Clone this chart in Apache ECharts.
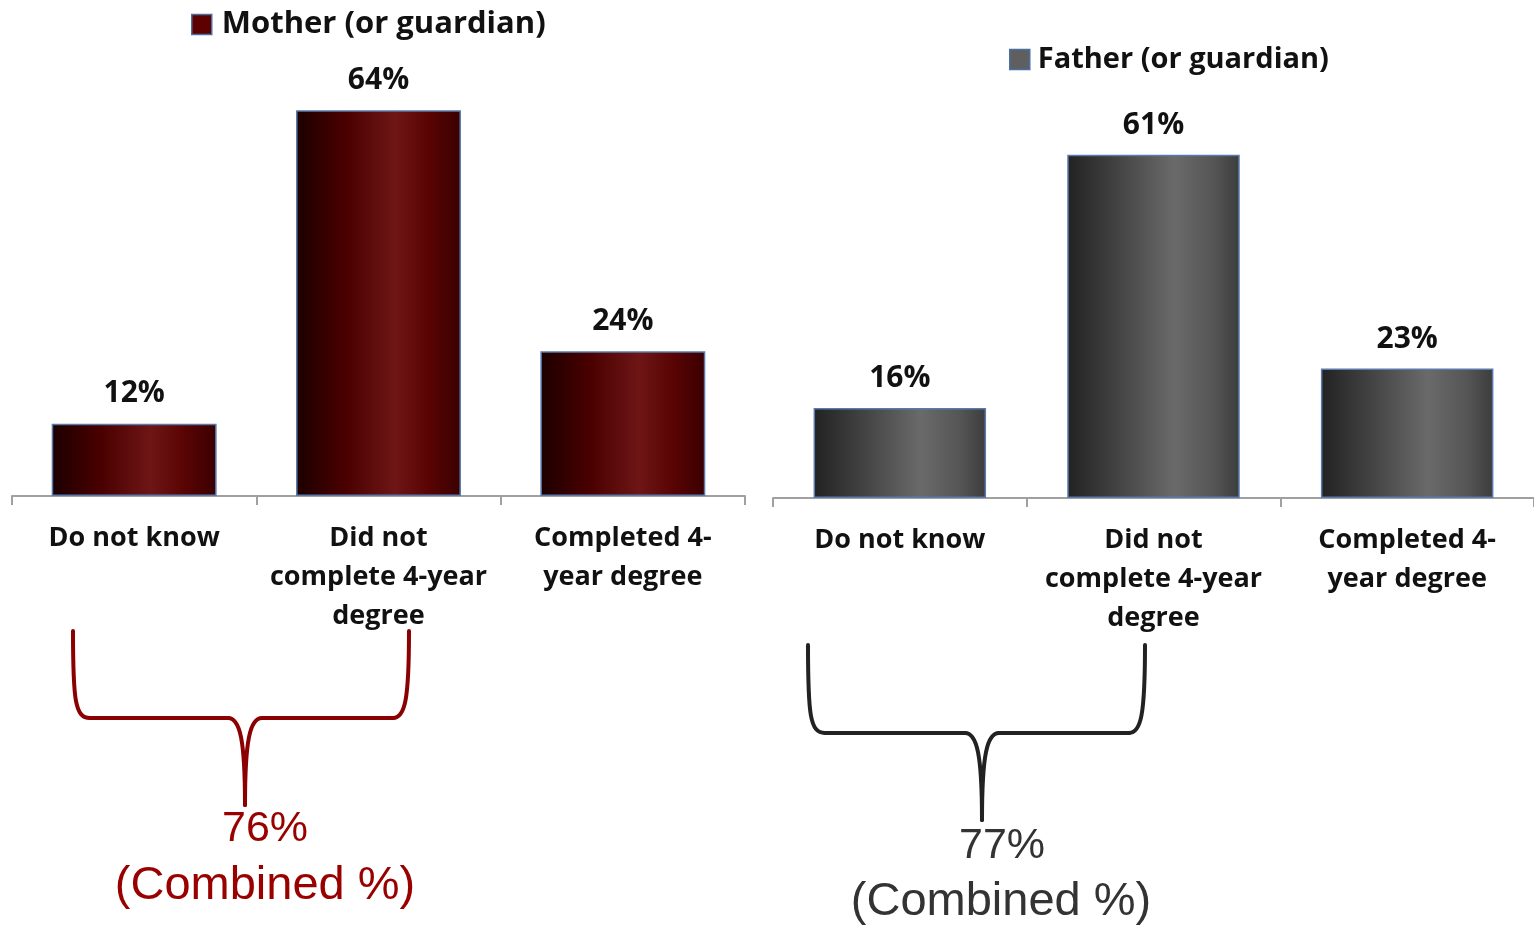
<!DOCTYPE html>
<html>
<head>
<meta charset="utf-8">
<script src="https://cdn.jsdelivr.net/npm/echarts@6/dist/echarts.min.js"></script>
<style>
html,body{margin:0;padding:0;background:#fff;}
#main{width:1534px;height:925px;}
</style>
</head>
<body>
<div id="main"></div>
<script>
const categories = ['Do not know', 'Did not\ncomplete 4-year\ndegree', 'Completed 4-\nyear degree'];
const motherValues = [12, 64, 24];
const fatherValues = [16, 61, 23];
const seriesNames = ['Mother (or guardian)', 'Father (or guardian)'];
const combinedLabel = '(Combined %)';
const motherCombined = motherValues[0] + motherValues[1];
const fatherCombined = fatherValues[0] + fatherValues[1];

const FONT = '"Open Sans"';
const chart = echarts.init(document.getElementById('main'));

function grad(stops) {
  return {type: 'linear', x: 0, y: 0, x2: 1, y2: 0, colorStops: stops.map(c => ({offset: c[0], color: c[1]}))};
}
const redGrad = grad([[0,'#1c0000'],[0.3,'#4a0000'],[0.6,'#6e1616'],[0.8,'#5a0404'],[1,'#3a0000']]);
const grayGrad = grad([[0,'#222222'],[0.3,'#444444'],[0.62,'#6a6a6a'],[0.85,'#555555'],[1,'#3c3c3c']]);

function xAxis(gi) {
  return {
    type: 'category', gridIndex: gi, data: categories,
    axisLine: {lineStyle: {color: '#a0a0a0', width: 2}},
    axisTick: {show: true, length: 9, interval: 0, lineStyle: {color: '#a0a0a0', width: 2}},
    axisLabel: {interval: 0, margin: 23, fontFamily: FONT, fontWeight: 'bold', fontSize: 27, lineHeight: 39, color: '#111'}
  };
}
function yAxis(gi) {
  return {type: 'value', gridIndex: gi, min: 0, max: 70, show: false, splitLine: {show: false}};
}
function labelCfg(dist) {
  return {show: true, position: 'top', distance: dist, formatter: '{c}%', fontFamily: FONT, fontWeight: 'bold', fontSize: 30, color: '#111'};
}

function brace(pts, color) {
  const [lx, ty, hy, cx, cy, rx] = pts;
  const st = {stroke: color, lineWidth: 4, lineCap: 'round', fill: null};
  return [
    {type: 'bezierCurve', shape: {x1: lx, y1: ty, x2: lx + 17, y2: hy, cpx1: lx, cpy1: hy - 18, cpx2: lx + 2, cpy2: hy}, style: st},
    {type: 'line', shape: {x1: lx + 17, y1: hy, x2: cx - 17, y2: hy}, style: st},
    {type: 'bezierCurve', shape: {x1: cx - 17, y1: hy, x2: cx, y2: cy, cpx1: cx - 5, cpy1: hy, cpx2: cx, cpy2: hy + 22}, style: st},
    {type: 'bezierCurve', shape: {x1: cx, y1: cy, x2: cx + 17, y2: hy, cpx1: cx, cpy1: hy + 22, cpx2: cx + 5, cpy2: hy}, style: st},
    {type: 'line', shape: {x1: cx + 17, y1: hy, x2: rx - 16, y2: hy}, style: st},
    {type: 'bezierCurve', shape: {x1: rx - 16, y1: hy, x2: rx, y2: ty, cpx1: rx - 4, cpy1: hy, cpx2: rx, cpy2: hy - 18}, style: st}
  ];
}
function txt(x, y, text, color, size) {
  return {type: 'text', x: x, y: y, style: {text: text, textAlign: 'center', textVerticalAlign: 'middle', fill: color, font: size + 'px "Liberation Sans", Arial, sans-serif'}};
}

const option = {
  animation: false,
  backgroundColor: '#ffffff',
  grid: [
    {left: 12, width: 733, top: 74, height: 422},
    {left: 773, right: 0, top: 104, height: 394}
  ],
  xAxis: [xAxis(0), xAxis(1)],
  yAxis: [yAxis(0), yAxis(1)],
  legend: [
    {data: [{name: seriesNames[0], itemStyle: {color: '#5c0000', borderColor: '#4a6fa5', borderWidth: 1.5}}],
     left: 186, top: 4, icon: 'rect', itemWidth: 20, itemHeight: 20,
     textStyle: {fontFamily: FONT, fontWeight: 'bold', fontSize: 31, color: '#111', padding: [0,0,0,5]}},
    {data: [{name: seriesNames[1], itemStyle: {color: '#5f5f5f', borderColor: '#4a6fa5', borderWidth: 1.5}}],
     left: 1004, top: 40, icon: 'rect', itemWidth: 20, itemHeight: 20,
     textStyle: {fontFamily: FONT, fontWeight: 'bold', fontSize: 29, color: '#111', padding: [0,0,0,3]}}
  ],
  series: [
    {name: seriesNames[0], type: 'bar', xAxisIndex: 0, yAxisIndex: 0, data: motherValues, barWidth: '67.5%',
     itemStyle: {color: redGrad, borderColor: '#5a7aab', borderWidth: 1.5}, label: labelCfg(15)},
    {name: seriesNames[1], type: 'bar', xAxisIndex: 1, yAxisIndex: 1, data: fatherValues, barWidth: '68%',
     itemStyle: {color: grayGrad, borderColor: '#5a7aab', borderWidth: 1.5}, label: labelCfg(14)}
  ],
  graphic: [].concat(
    brace([73, 631, 718, 245, 805, 409], '#8b0000'),
    brace([808, 645, 733, 982, 820, 1145], '#222222'),
    [txt(265, 829, motherCombined + '%', '#990000', 43),
     txt(265, 886, combinedLabel, '#990000', 47),
     txt(1002, 846, fatherCombined + '%', '#333333', 43),
     txt(1001, 902, combinedLabel, '#333333', 47)]
  )
};
chart.setOption(option);
</script>
</body>
</html>
